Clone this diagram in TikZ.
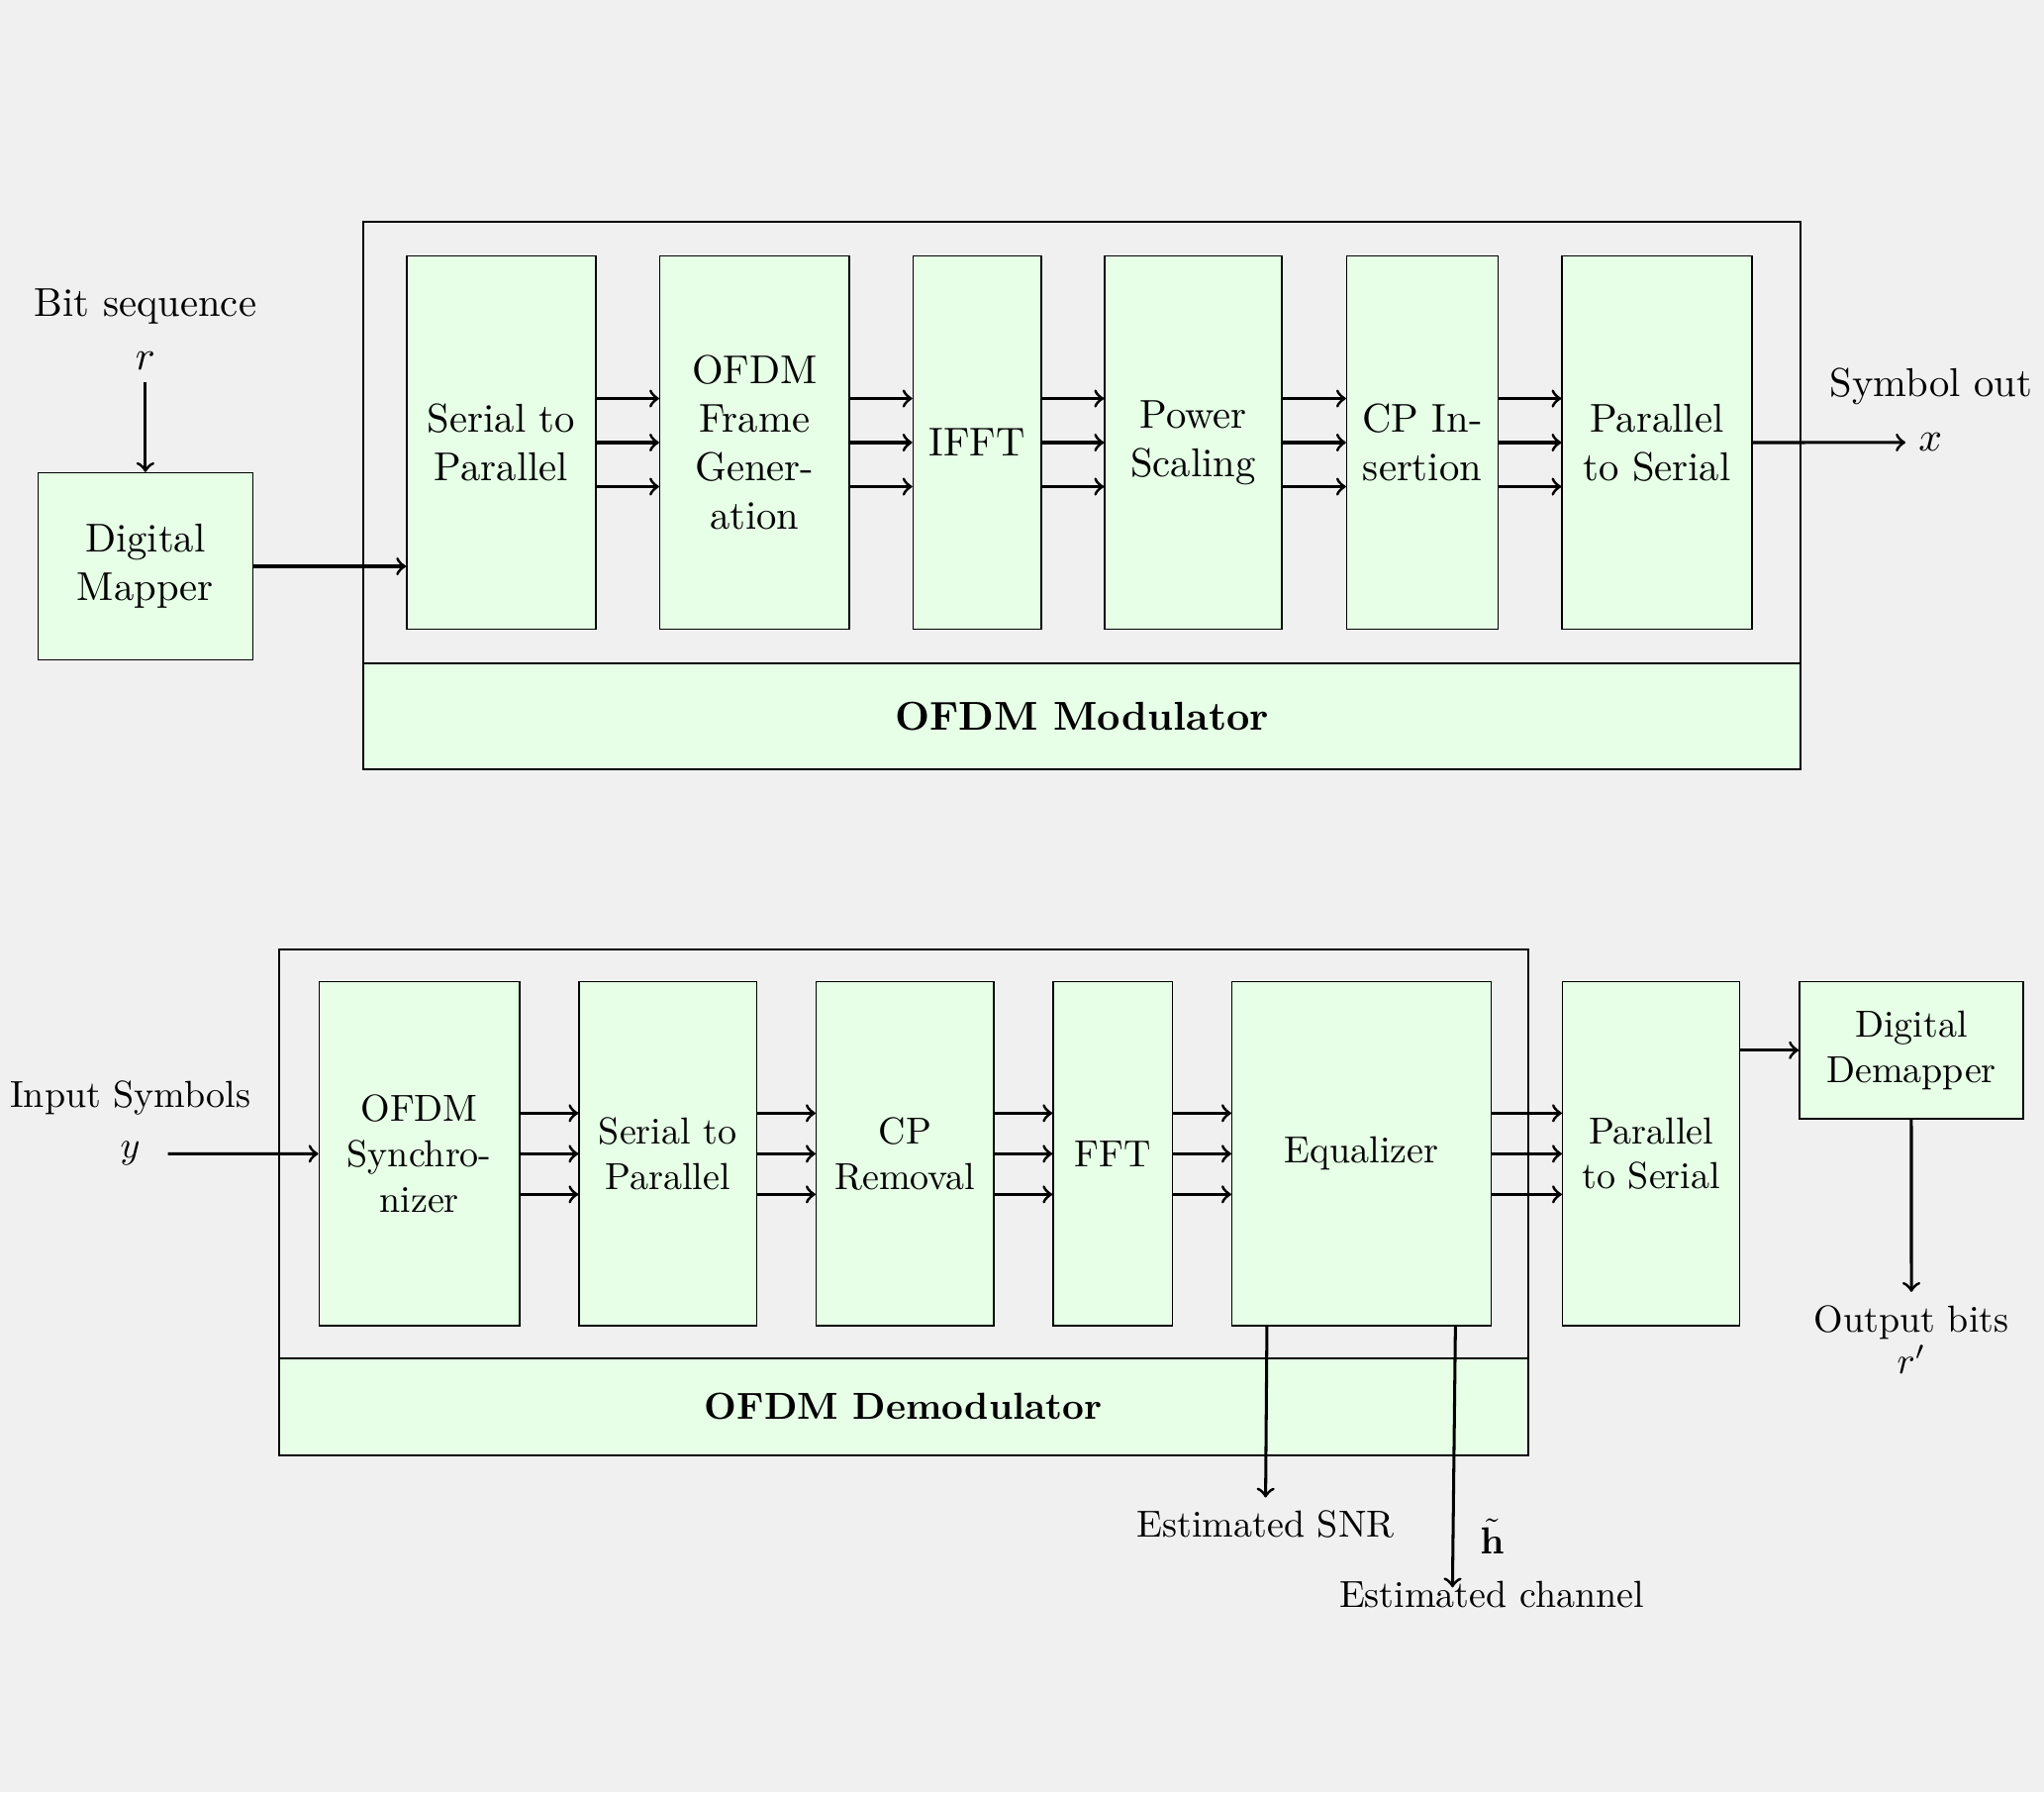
\documentclass[tikz,border=0pt]{standalone}
\usepackage{amsmath}
\definecolor{bgcol}{HTML}{F0F0F0}
\definecolor{blkfill}{HTML}{E6FFE6}
\newdimen\pxd \pxd=0.26316pt
% block given by its corner coordinates: name, x1, y1, x2, y2, style, text
\newcommand\blk[7]{%
  \node[#6, minimum width={(#4-#2)*\pxd}, minimum height={(#5-#3)*\pxd}]
    (#1) at ({(#2+#4)/2},{(#3+#5)/2}) {#7};}
% three parallel arrows between two neighbouring blocks
\newcommand\tri[3]{%
  \foreach \d in {-1,0,1}
    \draw[arr] ([yshift=\d*#3*\pxd]#1.east) -- ([yshift=\d*#3*\pxd]#2.west);}
\newcommand\txfont{\fontsize{10.7pt}{12.84pt}\selectfont}
\newcommand\rxfont{\fontsize{10pt}{12pt}\selectfont}
\begin{document}
\begin{tikzpicture}[x=0.26316pt, y=-0.26316pt,
  box/.style={draw, fill=blkfill, align=center, inner sep=0pt},
  frame/.style={draw, line width=0.5pt, inner sep=0pt},
  band/.style={draw, line width=0.5pt, fill=blkfill, inner sep=0pt},
  arr/.style={->, thick}]
\fill[bgcol] (0,0) rectangle (2065,1810);
\useasboundingbox (0,0) rectangle (2065,1810);

% ---------------- transmitter ----------------
\begin{scope}[every node/.style={font=\txfont}]
\blk{modframe}{367.4}{224}{1818.8}{670}{frame}{}
\blk{modband}{367.4}{670}{1818.8}{777}{band}{\bfseries OFDM Modulator}

\blk{mapper}{38.4}{477.5}{255.4}{666.5}{box}{Digital\\Mapper}
\blk{tsp}{410.9}{258.3}{601.9}{635.7}{box}{Serial to\\Parallel}
\blk{tfg}{666.6}{258.3}{858.1}{635.7}{box}{OFDM\\Frame\\Gener-\\ation}
\blk{tifft}{922.4}{258.3}{1051.8}{635.7}{box}{IFFT}
\blk{tpow}{1116}{258.3}{1295}{635.7}{box}{Power\\Scaling}
\blk{tcp}{1360.5}{258.3}{1513.5}{635.7}{box}{CP In-\\sertion}
\blk{tps}{1578.1}{258.3}{1769.8}{635.7}{box}{Parallel\\to Serial}

\node[anchor=base] (bitseq) at (146.9,319.3) {Bit sequence};
\node[anchor=base] (rin) at (146.9,373) {$r$};
\draw[arr] (rin.south) -- (mapper.north);
\draw[arr] (mapper.east) -- (mapper.east -| tsp.west);

\tri{tsp}{tfg}{44.5}
\tri{tfg}{tifft}{44.5}
\tri{tifft}{tpow}{44.5}
\tri{tpow}{tcp}{44.5}
\tri{tcp}{tps}{44.5}

\node[anchor=west] (xout) at (1925,446.9) {$x$};
\node[anchor=base] (symout) at (1951,400) {Symbol out};
\draw[arr] (tps.east) -- (xout.west);
\end{scope}

% ---------------- receiver ----------------
\begin{scope}[every node/.style={font=\rxfont}]
\blk{demframe}{281.9}{959.3}{1543.6}{1371.7}{frame}{}
\blk{demband}{281.9}{1371.7}{1543.6}{1469.8}{band}{\bfseries OFDM Demodulator}

\blk{sync}{322.3}{991.5}{525}{1339.2}{box}{OFDM\\Synchro-\\nizer}
\blk{bsp}{585}{991.5}{764.3}{1339.2}{box}{Serial to\\Parallel}
\blk{cpr}{824.6}{991.5}{1003.9}{1339.2}{box}{CP\\Removal}
\blk{fft}{1063.9}{991.5}{1184.6}{1339.2}{box}{FFT}
\blk{eq}{1244.6}{991.5}{1506.4}{1339.2}{box}{Equalizer}
\blk{bps}{1578.6}{991.5}{1757.7}{1339.2}{box}{Parallel\\to Serial}
\blk{dem}{1817.8}{991.5}{2044.1}{1130}{box}{Digital\\Demapper}

\node[anchor=base] (insym) at (131.7,1118.3) {Input Symbols};
\node[outer xsep=4pt] (yin) at (131.7,1165.3) {$y$};
\draw[arr] (yin.east) -- (sync.west);

\tri{sync}{bsp}{41}
\tri{bsp}{cpr}{41}
\tri{cpr}{fft}{41}
\tri{fft}{eq}{41}
\tri{eq}{bps}{41}

\draw[arr] (bps.east |- dem.west) -- (dem.west);
\node[anchor=base] (outbits) at (1931,1345) {Output bits};
\node[anchor=base] (rout) at (1931,1387) {$r'$};
\draw[arr] (dem.south) -- (outbits.north);

\node[anchor=base] (snr) at (1278.6,1552.7) {Estimated SNR};
\draw[arr] ([xshift=36.1*\pxd]eq.south west) -- (snr.north);

\node[anchor=base] (hlab) at (1507.4,1569.3) {$\tilde{\mathbf{h}}$};
\node[anchor=base] (chan) at (1507,1623.3) {Estimated channel};
\coordinate (chanend) at (1467.4,1603.3);
\draw[arr] ([xshift=-36.8*\pxd]eq.south east) -- (chanend);
\end{scope}
\end{tikzpicture}
\end{document}
